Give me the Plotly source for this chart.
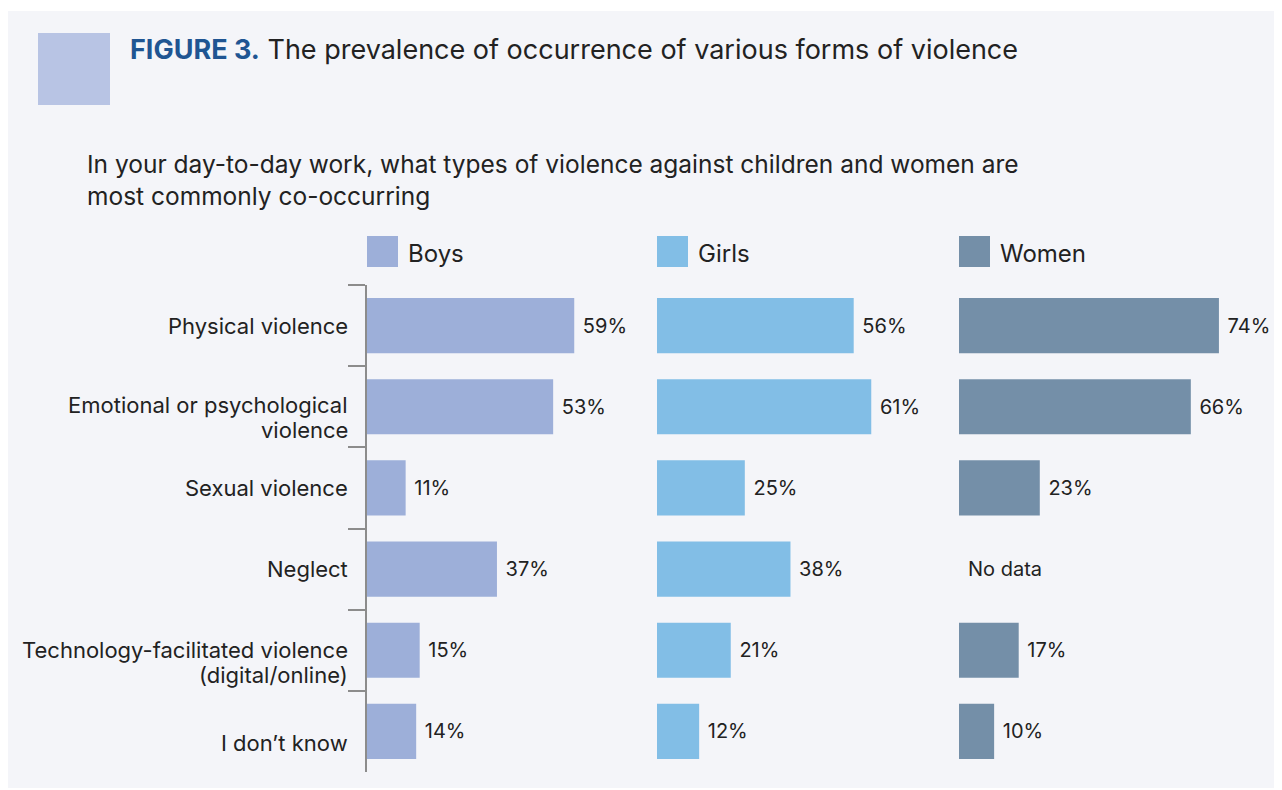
import plotly.graph_objects as go

W, H = 1282, 790

categories = [
    "Physical violence",
    "Emotional or psychological<br>violence",
    "Sexual violence",
    "Neglect",
    "Technology-facilitated violence<br>(digital/online)",
    "I don\u2019t know",
]
series_names = ["Boys", "Girls", "Women"]
boys = [59, 53, 11, 37, 15, 14]
girls = [56, 61, 25, 38, 21, 12]
women = [74, 66, 23, None, 17, 10]
series_values = [boys, girls, women]
colors = ["#9dafd9", "#82bee6", "#748fa8"]

title_bold = "FIGURE 3."
title_rest = "The prevalence of occurrence of various forms of violence"
subtitle = "In your day-to-day work, what types of violence against children and women are<br>most commonly co-occurring"
no_data_label = "No data"

# style: vertical offset (px, downward) of each category label's first line
label_dy = [0, -2, 0, 0, 0, 12]
LINE_H = 25

FONT = "Inter, Noto Sans, sans-serif"
TXT = "#222222"
PANEL = "#f4f5f9"
OFF = 8  # page body margin


def px_x(p):
    return (p - OFF) / W


def px_y(p):
    return 1 - (p - OFF) / H


x_domains = [(367, 648), (657, 938), (959, 1240)]
y_dom = [px_y(772), px_y(285)]

fig = go.Figure()
for i, (name, vals, col) in enumerate(zip(series_names, series_values, colors)):
    ax = "" if i == 0 else str(i + 1)
    fig.add_trace(go.Bar(
        x=vals, y=categories, orientation="h", name=name,
        marker=dict(color=col, line=dict(width=0)),
        text=[("\u00a0" + f"{v}%") if v is not None else "" for v in vals],
        textposition="outside", cliponaxis=False,
        textfont=dict(family=FONT, size=20, color=TXT),
        xaxis="x" + ax, yaxis="y" + ax, showlegend=False,
    ))

layout = dict(
    width=W, height=H,
    margin=dict(l=0, r=0, t=0, b=0),
    paper_bgcolor="white", plot_bgcolor=PANEL,
    bargap=0.32,
    font=dict(family=FONT, color=TXT),
)
for i, (a, b) in enumerate(x_domains):
    ax = "" if i == 0 else str(i + 1)
    layout["xaxis" + ax] = dict(
        domain=[px_x(a), px_x(b)], range=[0, 80], visible=False, fixedrange=True,
        anchor="y" + ax,
    )
    yax = dict(
        domain=y_dom, anchor="x" + ax, autorange="reversed",
        categoryorder="array", categoryarray=categories,
        showgrid=False, zeroline=False, showticklabels=False,
    )
    if i == 0:
        yax.update(
            showline=True, linecolor="#8c8c8c", linewidth=2,
            ticks="outside", tickson="boundaries", ticklen=17, tickcolor="#8c8c8c", tickwidth=1.5,
        )
    else:
        yax.update(showline=False, ticks="")
    layout["yaxis" + ax] = yax

fig.update_layout(**layout)

# category labels (one annotation per line, for tight line spacing)
for cat, dy in zip(categories, label_dy):
    for j, line in enumerate(cat.split("<br>")):
        fig.add_annotation(xref="paper", yref="y", x=px_x(350), y=cat,
                           xanchor="right", yanchor="middle", showarrow=False,
                           yshift=-(dy + j * LINE_H), text=line,
                           font=dict(family=FONT, size=22, color=TXT))

# background panel
fig.add_shape(type="rect", xref="paper", yref="paper",
              x0=px_x(8), x1=1, y0=px_y(788), y1=px_y(11),
              fillcolor=PANEL, line=dict(width=0), layer="below")
# decorative square
fig.add_shape(type="rect", xref="paper", yref="paper",
              x0=px_x(38), x1=px_x(110), y0=px_y(105), y1=px_y(33),
              fillcolor="#b8c4e4", line=dict(width=0))

# title
fig.add_annotation(
    xref="paper", yref="paper", x=px_x(128), y=px_y(50), xanchor="left", yanchor="middle",
    text=f"<b><span style='color:#1f5592'>{title_bold}</span></b> {title_rest}",
    showarrow=False, font=dict(family=FONT, size=27, color=TXT), align="left",
)
# subtitle
fig.add_annotation(
    xref="paper", yref="paper", x=px_x(85), y=px_y(180), xanchor="left", yanchor="middle",
    text=subtitle, showarrow=False, align="left",
    font=dict(family=FONT, size=24.5, color=TXT),
)

# legend (custom)
for (a, b), name, col in zip(x_domains, series_names, colors):
    fig.add_shape(type="rect", xref="paper", yref="paper",
                  x0=px_x(a), x1=px_x(a + 31), y0=px_y(267), y1=px_y(236),
                  fillcolor=col, line=dict(width=0))
    fig.add_annotation(xref="paper", yref="paper", x=px_x(a + 39), y=px_y(253),
                       xanchor="left", yanchor="middle", text=name, showarrow=False,
                       font=dict(family=FONT, size=24, color=TXT))

# "No data" for missing women's values
for cat, v in zip(categories, women):
    if v is None:
        fig.add_annotation(xref="x3", yref="y3", x=0, y=cat, xanchor="left", yanchor="middle",
                           xshift=7, text=no_data_label, showarrow=False,
                           font=dict(family=FONT, size=20, color=TXT))

fig.write_html("out.html")
